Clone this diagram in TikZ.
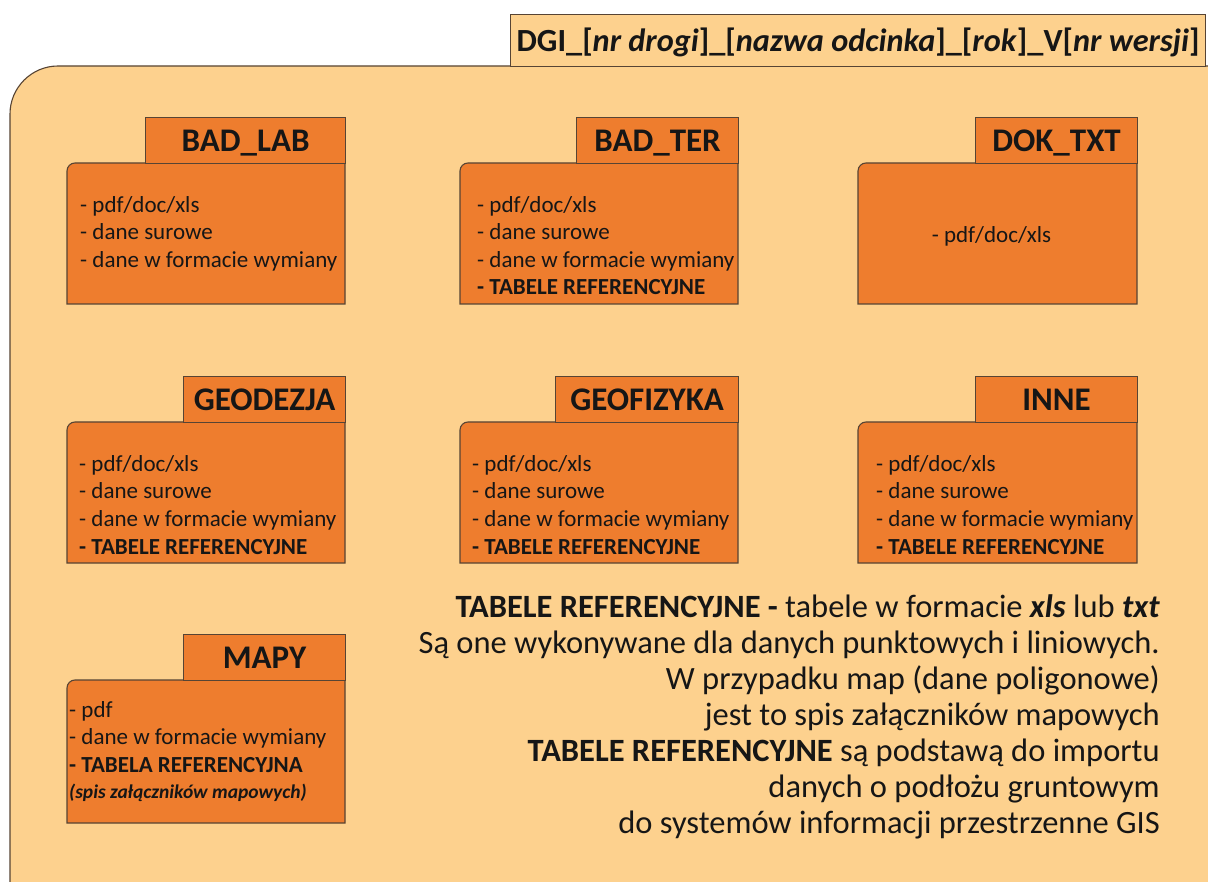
\documentclass[tikz,border=0pt]{standalone}
\usepackage{fontspec}
\setmainfont{Carlito}
\definecolor{bgor}{HTML}{FDD18E}
\definecolor{pkor}{HTML}{EE7D2E}
\definecolor{edgec}{HTML}{574434}
\definecolor{ink}{HTML}{161616}
\tikzset{
  bigbox/.style={fill=bgor, draw=edgec, line width=1.1pt},
  pkgbody/.style={fill=pkor, draw=edgec, line width=1.1pt},
  pkgtab/.style={fill=pkor, draw=edgec, line width=1.1pt, minimum height=46pt, inner sep=0pt,
    text height=21pt, text depth=0pt, font=\fontsize{33}{38}\selectfont\bfseries, text=ink},
  pkgtxt/.style={inner sep=0pt, align=left, font=\fontsize{23}{27.6}\selectfont, text=ink},
  notetxt/.style={inner sep=0pt, align=right, font=\fontsize{32.5}{36}\selectfont, text=ink},
  titletab/.style={fill=bgor, draw=edgec, line width=1.1pt, inner sep=0pt, minimum height=52pt,
    text height=22pt, text depth=0pt, font=\fontsize{32.3}{36}\selectfont\bfseries, text=ink},
}
% #1 name, #2 body left, #3 tab left, #4 right, #5 tab top, #6 title, #7 body height
\newcommand\pkgbox[7]{%
  \draw[pkgbody] (#2,#5+46+#7) -- (#2,#5+54) .. controls (#2,#5+49.6) and (#2+3.6,#5+46) .. (#2+8,#5+46) -- (#4,#5+46) -- (#4,#5+46+#7) -- cycle;
  \node[pkgtab, minimum width={#4-#3}, anchor=north west] (#1-tab) at (#3,#5) {#6};
}
\newcommand\strt{\rule{0pt}{17.5pt}}
\begin{document}
\begin{tikzpicture}[x=1pt,y=-1pt]
\useasboundingbox (0,0) rectangle (1208,882);
\clip (0,0) rectangle (1208,882);
\fill[white] (0,0) rectangle (1208,882);
% main container
\draw[bigbox] (10,900) -- (10,114) .. controls (10,87.6) and (31.6,66) .. (58,66) -- (1230,66) -- (1230,900) -- cycle;
\node[titletab, minimum width=695pt, anchor=north west] (title) at (510,14)
  {DGI\_[\textit{nr drogi}]\_[\textit{nazwa odcinka}]\_[\textit{rok}]\_V[\textit{nr wersji}]};
% row 1
\pkgbox{badlab}{67}{145}{345}{117}{BAD\_LAB}{141}
\pkgbox{badter}{460}{576}{738}{117}{BAD\_TER}{141}
\pkgbox{doktxt}{858}{975}{1137}{117}{DOK\_TXT}{141}
% row 2
\pkgbox{geodezja}{67}{183}{345}{376}{GEODEZJA}{141}
\pkgbox{geofizyka}{460}{555}{738}{376}{GEOFIZYKA}{141}
\pkgbox{inne}{858}{975}{1137}{376}{INNE}{141}
% row 3
\pkgbox{mapy}{67}{183}{345}{634}{MAPY}{143}
% texts
\node[pkgtxt, anchor=north west] (badlab-txt) at (80,194.5)
  {\strt- pdf/doc/xls\\- dane surowe\\- dane w formacie wymiany};
\node[pkgtxt, anchor=north west] (badter-txt) at (477,194.5)
  {\strt- pdf/doc/xls\\- dane surowe\\- dane w formacie wymiany\\\textbf{- TABELE REFERENCYJNE}};
\node[pkgtxt, anchor=north] (doktxt-txt) at (991.5,224.5) {\strt- pdf/doc/xls};
\node[pkgtxt, anchor=north west] (geodezja-txt) at (79,453.5)
  {\strt- pdf/doc/xls\\- dane surowe\\- dane w formacie wymiany\\\textbf{- TABELE REFERENCYJNE}};
\node[pkgtxt, anchor=north west] (geofizyka-txt) at (472,453.5)
  {\strt- pdf/doc/xls\\- dane surowe\\- dane w formacie wymiany\\\textbf{- TABELE REFERENCYJNE}};
\node[pkgtxt, anchor=north west] (inne-txt) at (876,453.5)
  {\strt- pdf/doc/xls\\- dane surowe\\- dane w formacie wymiany\\\textbf{- TABELE REFERENCYJNE}};
\node[pkgtxt, anchor=north west] (mapy-txt) at (69,699.5)
  {\strt- pdf\\- dane w formacie wymiany\\\textbf{- TABELA REFERENCYJNA}\\[-2pt]{\fontsize{19.5}{22}\selectfont\bfseries\itshape (spis załączników mapowych)}};
% note
\node[notetxt, anchor=north east] (note) at (1160,594)
  {\rule{0pt}{23pt}\textbf{TABELE REFERENCYJNE -} tabele w formacie \textbf{\textit{xls}} lub \textbf{\textit{txt}}\\
   Są one wykonywane dla danych punktowych i liniowych.\\
   W przypadku map (dane poligonowe)\\
   jest to spis załączników mapowych\\
   \textbf{TABELE REFERENCYJNE} są podstawą do importu\\
   danych o podłożu gruntowym\\
   do systemów informacji przestrzenne GIS};
\end{tikzpicture}
\end{document}
